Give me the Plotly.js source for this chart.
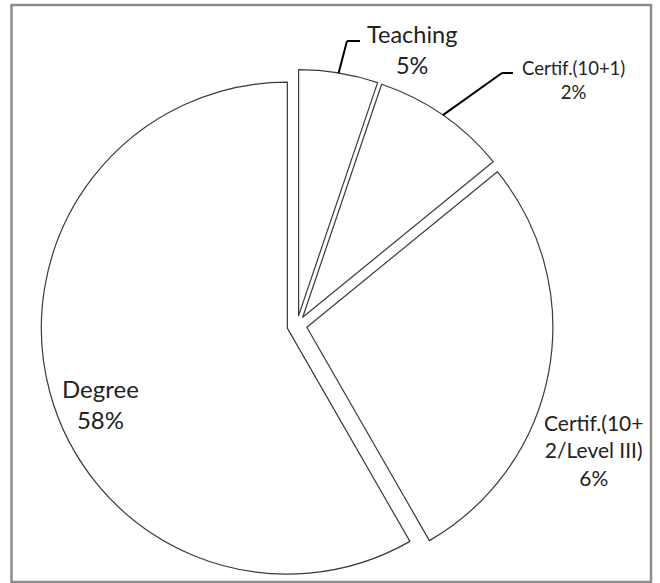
<!DOCTYPE html>
<html><head><meta charset="utf-8">
<script src="https://cdn.plot.ly/plotly-3.0.1.min.js"></script>
<style>html,body{margin:0;padding:0;background:#fff}#chart{width:660px;height:583px}</style>
</head><body><div id="chart"></div>
<script>
// ---- data ----
const categories = ["Teaching", "Certif.(10+1)", "Certif.(10+2/Level III)", "Degree"];
const sliceValues = [5.2, 8.9, 27.6, 58.3];           // visual slice sizes
const shownPercents = ["5%", "2%", "6%", "58%"];        // percentages printed on the chart
const labelLines = [["Teaching"], ["Certif.(10+1)"], ["Certif.(10+", "2/Level III)"], ["Degree"]];

// ---- layout constants (pixels) ----
const W = 660, H = 583;
const CX = 297, CY = 325.5, R = 246, PULL = 10 / 246;
const HALF = R * (1 + PULL);
const labelStyle = [
  {x: 411.5, y: 49.5, size: 23.5, leader: [[347, 41], [360, 41]]},
  {x: 573,   y: 79.5, size: 18.5, leader: [[502, 73], [513, 73]]},
  {x: 593,   y: 450,  size: 21, leader: null},
  {x: 101,   y: 404,  size: 24, leader: null}
];
const px = x => x / W, py = y => 1 - y / H;

const total = sliceValues.reduce((a, b) => a + b, 0);
const shapes = [{
  type: 'rect', xref: 'paper', yref: 'paper',
  x0: px(11.5), x1: px(651), y0: py(582), y1: py(5),
  line: {color: '#8c8c8c', width: 2.5}, fillcolor: 'rgba(0,0,0,0)'
}];
const annotations = [];
let cum = 0;
sliceValues.forEach((v, i) => {
  const mid = (cum + v / 2) / total * 2 * Math.PI;
  cum += v;
  const st = labelStyle[i];
  const lines = labelLines[i].concat([shownPercents[i]]);
  annotations.push({
    xref: 'paper', yref: 'paper', x: px(st.x), y: py(st.y),
    xanchor: 'center', yanchor: 'middle', showarrow: false, align: 'center',
    text: lines.join('<br>'),
    font: {family: 'Lato, "Open Sans", sans-serif', size: st.size, color: '#222222'}
  });
  if (st.leader) {
    const sx = CX + HALF * Math.sin(mid), sy = CY - HALF * Math.cos(mid);
    const pts = [[sx, sy]].concat(st.leader);
    for (let k = 0; k < pts.length - 1; k++) {
      shapes.push({type: 'line', xref: 'paper', yref: 'paper',
        x0: px(pts[k][0]), y0: py(pts[k][1]), x1: px(pts[k + 1][0]), y1: py(pts[k + 1][1]),
        line: {color: '#000', width: 2}});
    }
  }
});

const trace = {
  type: 'pie', labels: categories, values: sliceValues,
  sort: false, direction: 'clockwise', rotation: 0,
  pull: sliceValues.map(() => PULL),
  marker: {colors: sliceValues.map(() => '#ffffff'), line: {color: '#3a3a3a', width: 1.2}},
  textinfo: 'none', hoverinfo: 'none', showlegend: false,
  domain: {x: [(CX - HALF) / W, (CX + HALF) / W], y: [1 - (CY + HALF) / H, 1 - (CY - HALF) / H]}
};

Plotly.newPlot('chart', [trace], {
  width: W, height: H, margin: {l: 0, r: 0, t: 0, b: 0},
  paper_bgcolor: '#fff', plot_bgcolor: '#fff', showlegend: false,
  shapes: shapes, annotations: annotations
}, {displayModeBar: false, staticPlot: true});
</script></body></html>
